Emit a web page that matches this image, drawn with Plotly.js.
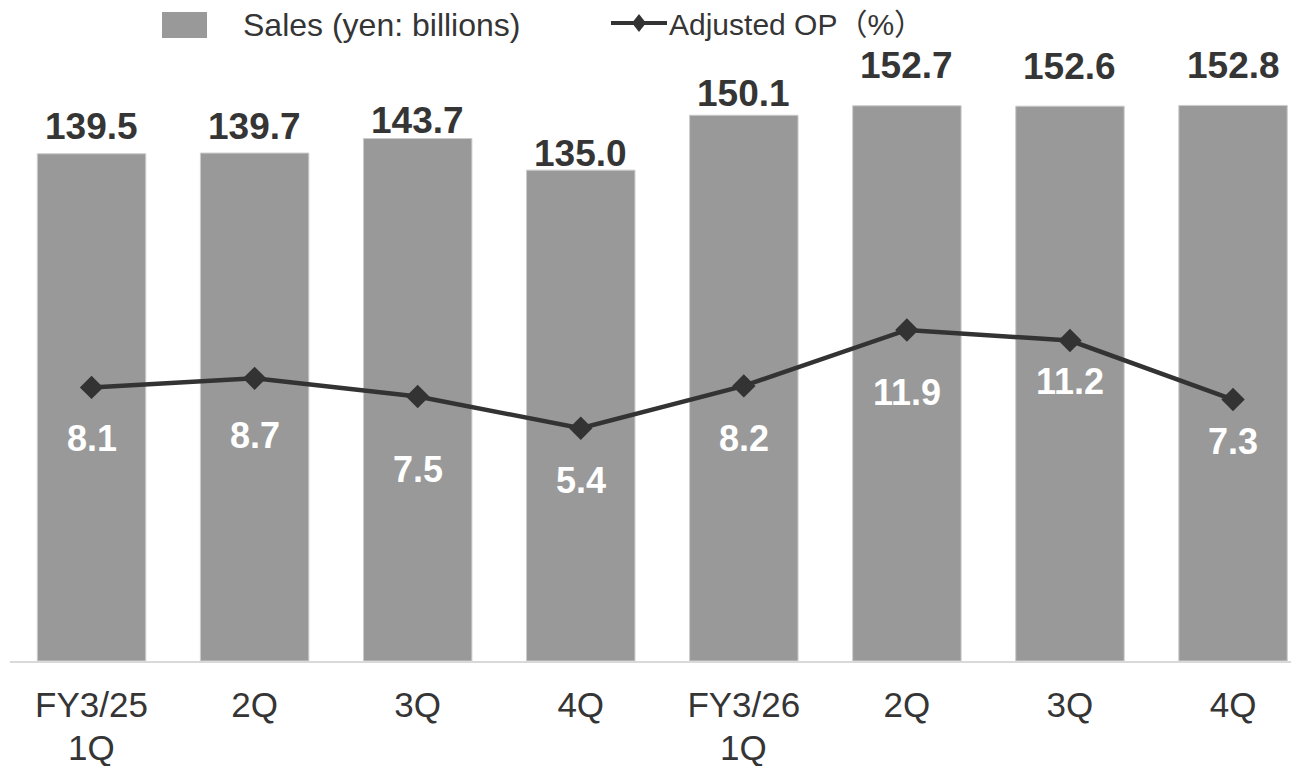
<!DOCTYPE html>
<html>
<head>
<meta charset="utf-8">
<script src="https://cdn.plot.ly/plotly-3.0.1.min.js"></script>
<style>
  html, body { margin: 0; padding: 0; background: #ffffff; }
  #chart { width: 1291px; height: 766px; }
</style>
</head>
<body>
<div id="chart"></div>
<script>
// Quarterly sales and adjusted operating profit margin
const quarters = ['FY3/25 1Q', 'FY3/25 2Q', 'FY3/25 3Q', 'FY3/25 4Q',
                  'FY3/26 1Q', 'FY3/26 2Q', 'FY3/26 3Q', 'FY3/26 4Q'];
const tickLabels = ['FY3/25', '2Q', '3Q', '4Q', 'FY3/26', '2Q', '3Q', '4Q'];
const tickSubLabels = ['1Q', '', '', '', '1Q', '', '', ''];
const sales = [139.5, 139.7, 143.7, 135.0, 150.1, 152.7, 152.6, 152.8];
const adjustedOP = [8.1, 8.7, 7.5, 5.4, 8.2, 11.9, 11.2, 7.3];
const salesName = 'Sales (yen: billions)';
const opName = 'Adjusted OP（%）';

// label nudges in pixels (positive = up)
const salesLabelShift = [26.8, 26.7, 18.5, 16.4, 22.2, 39.8, 39.2, 40.4];
const opLabelShift = [-51, -57, -73, -52, -53, -63, -41, -42];

const W = 1291, H = 766;
const M = { l: 10, r: 0, t: 40, b: 105 };
const plotW = W - M.l - M.r, plotH = H - M.t - M.b;
const px2x = p => (p - M.l) / plotW;
const px2y = p => (H - M.b - p) / plotH;

const FONT = 'Liberation Sans, Arial, Noto Sans CJK JP, sans-serif';
const TEXT = '#353535';
const BAR = '#999999';
const LINE = '#333333';

const traces = [
  {
    type: 'bar',
    name: salesName,
    x: quarters,
    y: sales,
    marker: { color: BAR, line: { color: '#cccccc', width: 1 } },
    hoverinfo: 'x+y'
  },
  {
    type: 'scatter',
    mode: 'lines+markers',
    name: opName,
    x: quarters,
    y: adjustedOP,
    yaxis: 'y2',
    line: { color: LINE, width: 4.5 },
    marker: { symbol: 'diamond', size: 18, color: LINE },
    hoverinfo: 'x+y'
  }
];

const annotations = [];
sales.forEach((v, i) => {
  annotations.push({
    x: quarters[i], y: v, xref: 'x', yref: 'y',
    text: v.toFixed(1), showarrow: false,
    xanchor: 'center', yanchor: 'middle', yshift: salesLabelShift[i],
    font: { family: FONT, size: 37, color: TEXT, weight: 'bold' }
  });
});
adjustedOP.forEach((v, i) => {
  annotations.push({
    x: quarters[i], y: v, xref: 'x', yref: 'y2',
    text: v.toFixed(1), showarrow: false,
    xanchor: 'center', yanchor: 'middle', yshift: opLabelShift[i],
    font: { family: FONT, size: 36, color: '#ffffff', weight: 'bold' }
  });
});

// second line of the category labels (quarter under the fiscal year)
tickSubLabels.forEach((t, i) => {
  if (!t) return;
  annotations.push({
    x: quarters[i], xref: 'x', yref: 'paper', y: px2y(747),
    text: t, showarrow: false,
    xanchor: 'center', yanchor: 'middle',
    font: { family: FONT, size: 35, color: TEXT }
  });
});

// legend drawn by hand at the top
annotations.push({
  xref: 'paper', yref: 'paper', x: px2x(241), y: px2y(25),
  xanchor: 'left', yanchor: 'middle', showarrow: false,
  text: salesName, font: { family: FONT, size: 32, color: TEXT }
});
annotations.push({
  xref: 'paper', yref: 'paper', x: px2x(667), y: px2y(25),
  xanchor: 'left', yanchor: 'middle', showarrow: false,
  text: opName, font: { family: FONT, size: 30, color: TEXT }
});

const dx = 7, dy = 9, cx = 639, cy = 23;
const diamondPath = 'M' + px2x(cx - dx) + ',' + px2y(cy) +
  ' L' + px2x(cx) + ',' + px2y(cy - dy) +
  ' L' + px2x(cx + dx) + ',' + px2y(cy) +
  ' L' + px2x(cx) + ',' + px2y(cy + dy) + ' Z';

const shapes = [
  { type: 'rect', xref: 'paper', yref: 'paper',
    x0: px2x(162), x1: px2x(207), y0: px2y(38), y1: px2y(12),
    fillcolor: BAR, line: { width: 0 } },
  { type: 'line', xref: 'paper', yref: 'paper',
    x0: px2x(611), x1: px2x(667), y0: px2y(23), y1: px2y(23),
    line: { color: LINE, width: 4 } },
  { type: 'path', xref: 'paper', yref: 'paper', path: diamondPath,
    fillcolor: LINE, line: { width: 0 } }
];

const layout = {
  width: W, height: H,
  margin: M,
  paper_bgcolor: '#ffffff',
  plot_bgcolor: '#ffffff',
  showlegend: false,
  bargap: 0.335,
  font: { family: FONT, color: TEXT },
  xaxis: {
    type: 'category',
    range: [-0.5, -0.5 + plotW / 163.07],
    tickmode: 'array', tickvals: quarters, ticktext: tickLabels,
    showline: true, linecolor: '#d9d9d9', linewidth: 2,
    ticks: '', showgrid: false, zeroline: false,
    ticklabelstandoff: 12,
    tickfont: { family: FONT, size: 35, color: TEXT },
    fixedrange: true
  },
  yaxis: {
    range: [0, plotH / 3.636],
    visible: false, showgrid: false, zeroline: false, fixedrange: true
  },
  yaxis2: {
    overlaying: 'y', side: 'right',
    range: [-10, (510 - M.t) / 15.12],
    visible: false, showgrid: false, zeroline: false, fixedrange: true
  },
  annotations: annotations,
  shapes: shapes
};

Plotly.newPlot('chart', traces, layout, { displayModeBar: false, staticPlot: true });
</script>
</body>
</html>
